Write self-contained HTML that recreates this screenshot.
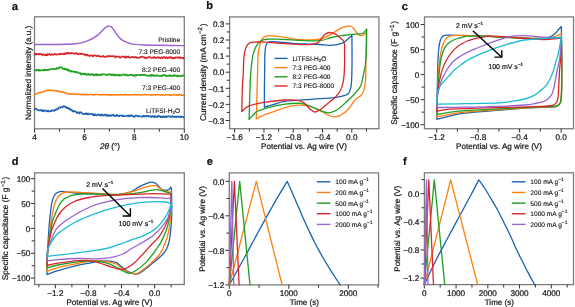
<!DOCTYPE html>
<html><head><meta charset="utf-8"><style>
html,body{margin:0;padding:0;background:#fff;}
svg{display:block;will-change:transform;}
text{font-family:"Liberation Sans", sans-serif;fill:#111;text-rendering:geometricPrecision;stroke:#111;stroke-width:0.2px;}
text.sm{stroke-width:0.12px;}
</style></head><body>
<svg width="575" height="307" viewBox="0 0 575 307">
<rect width="575" height="307" fill="#fff"/>
<text x="11.7" y="10" font-size="11.3" text-anchor="start" font-weight="bold" >a</text>
<rect x="34.5" y="16.8" width="149.8" height="112" fill="none" stroke="#7c7c7c" stroke-width="1.3"/>
<line x1="34.5" y1="128.8" x2="34.5" y2="132.7" stroke="#333" stroke-width="1.0"/>
<line x1="84.43" y1="128.8" x2="84.43" y2="132.7" stroke="#333" stroke-width="1.0"/>
<line x1="134.37" y1="128.8" x2="134.37" y2="132.7" stroke="#333" stroke-width="1.0"/>
<line x1="184.3" y1="128.8" x2="184.3" y2="132.7" stroke="#333" stroke-width="1.0"/>
<line x1="59.47" y1="128.8" x2="59.47" y2="131.7" stroke="#333" stroke-width="1.0"/>
<line x1="109.4" y1="128.8" x2="109.4" y2="131.7" stroke="#333" stroke-width="1.0"/>
<line x1="159.33" y1="128.8" x2="159.33" y2="131.7" stroke="#333" stroke-width="1.0"/>
<text x="34.5" y="139.6" font-size="8.2" text-anchor="middle" font-weight="normal" >4</text>
<text x="84.43" y="139.6" font-size="8.2" text-anchor="middle" font-weight="normal" >6</text>
<text x="134.37" y="139.6" font-size="8.2" text-anchor="middle" font-weight="normal" >8</text>
<text x="184.3" y="139.6" font-size="8.2" text-anchor="middle" font-weight="normal" >10</text>
<text x="109.9" y="149.0" font-size="8.2" text-anchor="middle"><tspan font-style="italic">2θ</tspan> (°)</text>
<text transform="translate(31.3,72.85) rotate(-90)" x="0" y="0" font-size="8.12" text-anchor="middle">Normalized intensity (a.u.)</text>
<path d="M34.5,44.4 C37.08,44.42 44.92,44.52 50,44.5 C55.08,44.48 60.83,44.42 65,44.3 C69.17,44.18 72.17,44.08 75,43.8 C77.83,43.52 79.72,43.17 82,42.6 C84.28,42.03 86.7,41.23 88.7,40.4 C90.7,39.57 92.37,38.6 94,37.6 C95.63,36.6 97.17,35.52 98.5,34.4 C99.83,33.28 101,31.9 102,30.9 C103,29.9 103.67,29.12 104.5,28.4 C105.33,27.68 106.25,26.98 107,26.6 C107.75,26.22 108.33,26.08 109,26.1 C109.67,26.12 110.33,26.23 111,26.7 C111.67,27.17 112.05,27.65 113,28.9 C113.95,30.15 115.53,32.62 116.7,34.2 C117.87,35.78 118.68,37.2 120,38.4 C121.32,39.6 122.93,40.55 124.6,41.4 C126.27,42.25 128.37,43 130,43.5 C131.63,44 131.9,44.15 134.4,44.4 C136.9,44.65 140.73,44.85 145,45 C149.27,45.15 153.45,45.2 160,45.3 C166.55,45.4 180.25,45.55 184.3,45.6" fill="none" stroke="#9a63cf" stroke-width="1.45" stroke-linejoin="round" stroke-linecap="round"/>
<path d="M34.5,54.04 L35.1,53.79 L35.7,54.56 L36.3,53.71 L36.9,54.42 L37.5,54.19 L38.1,53.76 L38.7,54.46 L39.3,53.78 L39.9,54.41 L40.5,53.89 L41.1,53.95 L41.7,54.48 L42.3,55.11 L42.9,54.08 L43.5,54.25 L44.1,54.87 L44.7,55.37 L45.3,54.81 L45.9,54.54 L46.5,55.4 L47.1,54 L47.7,55.22 L48.3,54.36 L48.9,54.13 L49.5,54.08 L50.1,54.36 L50.7,55.12 L51.3,54.15 L51.9,54.75 L52.5,54.83 L53.1,54.42 L53.7,54.68 L54.3,53.95 L54.9,53.94 L55.5,54.13 L56.1,54.8 L56.7,54.36 L57.3,54.13 L57.9,54.47 L58.5,54.19 L59.1,53.89 L59.7,54.55 L60.3,54.34 L60.9,53.59 L61.5,54.02 L62.1,53.9 L62.7,54.38 L63.3,54.13 L63.9,53.43 L64.5,54.42 L65.1,53.07 L65.7,53.46 L66.3,53.9 L66.9,52.92 L67.5,53.35 L68.1,52.61 L68.7,53.48 L69.3,53.56 L69.9,53.22 L70.5,53.62 L71.1,52.74 L71.7,53.3 L72.3,53.19 L72.9,53.22 L73.5,53.09 L74.1,53.73 L74.7,53.96 L75.3,53.33 L75.9,53.68 L76.5,52.83 L77.1,53.85 L77.7,53.81 L78.3,54.37 L78.9,54.18 L79.5,53.45 L80.1,53.7 L80.7,54.23 L81.3,53.37 L81.9,54.16 L82.5,53.84 L83.1,53.9 L83.7,53.94 L84.3,55.13 L84.9,54.29 L85.5,54.58 L86.1,54.9 L86.7,55.71 L87.3,54.6 L87.9,55.22 L88.5,55.4 L89.1,55.93 L89.7,55.87 L90.3,55.99 L90.9,55.16 L91.5,55.42 L92.1,55.39 L92.7,56.24 L93.3,56.41 L93.9,55.27 L94.5,55.37 L95.1,55.51 L95.7,55.58 L96.3,56.01 L96.9,56.23 L97.5,55.79 L98.1,55.45 L98.7,56.11 L99.3,56.07 L99.9,56.4 L100.5,56.99 L101.1,56.61 L101.7,56.36 L102.3,56.53 L102.9,56.63 L103.5,55.72 L104.1,57.01 L104.7,56.85 L105.3,57.01 L105.9,56.92 L106.5,56.34 L107.1,56.37 L107.7,55.95 L108.3,56.78 L108.9,55.94 L109.5,55.98 L110.1,56.22 L110.7,56.17 L111.3,56.47 L111.9,56.06 L112.5,56.01 L113.1,56.26 L113.7,56.21 L114.3,56.63 L114.9,56.15 L115.5,57.44 L116.1,57.07 L116.7,56.39 L117.3,56.57 L117.9,56.72 L118.5,56.77 L119.1,56.42 L119.7,57.52 L120.3,57.74 L120.9,56.96 L121.5,56.99 L122.1,56.4 L122.7,56.43 L123.3,56.79 L123.9,56.68 L124.5,57.53 L125.1,56.54 L125.7,56.34 L126.3,57.74 L126.9,57.11 L127.5,56.55 L128.1,57.15 L128.7,56.39 L129.3,57.15 L129.9,57.83 L130.5,57.67 L131.1,57.43 L131.7,56.79 L132.3,56.95 L132.9,56.66 L133.5,57.58 L134.1,57.23 L134.7,57.61 L135.3,56.95 L135.9,56.8 L136.5,57.69 L137.1,57.96 L137.7,57.77 L138.3,57.71 L138.9,57.74 L139.5,57.64 L140.1,56.88 L140.7,57.32 L141.3,57.09 L141.9,56.61 L142.5,56.61 L143.1,57 L143.7,56.98 L144.3,57.63 L144.9,58.04 L145.5,57.28 L146.1,58.02 L146.7,58.1 L147.3,58.06 L147.9,57.18 L148.5,56.97 L149.1,56.98 L149.7,56.94 L150.3,56.96 L150.9,57.59 L151.5,58.01 L152.1,57.92 L152.7,57.39 L153.3,57.65 L153.9,57.88 L154.5,56.81 L155.1,57.68 L155.7,58.06 L156.3,57.88 L156.9,57.83 L157.5,57.43 L158.1,56.99 L158.7,57.91 L159.3,57.24 L159.9,57.95 L160.5,58.21 L161.1,57.36 L161.7,57.37 L162.3,58.2 L162.9,57.87 L163.5,57.05 L164.1,57 L164.7,57.04 L165.3,58.18 L165.9,58.04 L166.5,57.06 L167.1,58.09 L167.7,58.33 L168.3,57.85 L168.9,57.4 L169.5,57.71 L170.1,57.09 L170.7,56.92 L171.3,58.37 L171.9,57.89 L172.5,57.72 L173.1,58.34 L173.7,57.6 L174.3,58.26 L174.9,58.2 L175.5,57.28 L176.1,57.35 L176.7,57.42 L177.3,57.35 L177.9,57.88 L178.5,57.39 L179.1,57.64 L179.7,57.21 L180.3,58.39 L180.9,57.56 L181.5,57.72 L182.1,57.91 L182.7,58.4 L183.3,57.67 L183.9,58.42" fill="none" stroke="#d8262b" stroke-width="1.6" stroke-linejoin="round" stroke-linecap="round"/>
<path d="M34.5,70.5 L35.1,70.53 L35.7,70.51 L36.3,69.73 L36.9,70.34 L37.5,69.93 L38.1,69.63 L38.7,70.8 L39.3,69.83 L39.9,70.25 L40.5,70.6 L41.1,70.32 L41.7,69.95 L42.3,70.21 L42.9,70.24 L43.5,70.56 L44.1,69.53 L44.7,70.2 L45.3,69.7 L45.9,69.67 L46.5,70.33 L47.1,69.84 L47.7,69.81 L48.3,69.99 L48.9,70.09 L49.5,69.26 L50.1,69.39 L50.7,69.12 L51.3,69.03 L51.9,69.21 L52.5,68.78 L53.1,68.84 L53.7,68.71 L54.3,69.34 L54.9,68.89 L55.5,69.06 L56.1,69.06 L56.7,67.93 L57.3,68.28 L57.9,68.75 L58.5,68.5 L59.1,67.37 L59.7,67.28 L60.3,67.71 L60.9,67.25 L61.5,67.63 L62.1,67.54 L62.7,68.61 L63.3,68.97 L63.9,69.33 L64.5,68.38 L65.1,69.37 L65.7,69.4 L66.3,68.73 L66.9,69.99 L67.5,70.32 L68.1,69.44 L68.7,70.8 L69.3,70.25 L69.9,70.67 L70.5,71.7 L71.1,71.72 L71.7,70.94 L72.3,71.54 L72.9,71.8 L73.5,71.62 L74.1,71.49 L74.7,71.78 L75.3,72.51 L75.9,71.59 L76.5,72.54 L77.1,72.52 L77.7,72.05 L78.3,72.69 L78.9,73.3 L79.5,73.3 L80.1,72.79 L80.7,74.32 L81.3,74.17 L81.9,74.57 L82.5,73.39 L83.1,73.73 L83.7,73.47 L84.3,74.63 L84.9,73.89 L85.5,73.7 L86.1,74.17 L86.7,74.93 L87.3,74.83 L87.9,74.03 L88.5,73.9 L89.1,75.1 L89.7,74.62 L90.3,74.86 L90.9,73.98 L91.5,73.97 L92.1,74.95 L92.7,74.59 L93.3,74.09 L93.9,75.42 L94.5,74.99 L95.1,75.25 L95.7,74.18 L96.3,75.34 L96.9,74.16 L97.5,75.36 L98.1,74.75 L98.7,74.58 L99.3,74.9 L99.9,75.47 L100.5,74.48 L101.1,74.28 L101.7,74.88 L102.3,74.46 L102.9,74.27 L103.5,74.35 L104.1,74.19 L104.7,74.42 L105.3,74.59 L105.9,74.59 L106.5,75.27 L107.1,74.57 L107.7,74.89 L108.3,74.41 L108.9,74.67 L109.5,74.18 L110.1,74.53 L110.7,74.18 L111.3,75.26 L111.9,74.99 L112.5,74.45 L113.1,74.89 L113.7,75.58 L114.3,74.35 L114.9,75.42 L115.5,74.85 L116.1,74.95 L116.7,75.47 L117.3,74.82 L117.9,75 L118.5,75.28 L119.1,75.73 L119.7,74.78 L120.3,75.52 L120.9,75.34 L121.5,75.24 L122.1,74.91 L122.7,74.83 L123.3,74.4 L123.9,74.53 L124.5,74.45 L125.1,75.46 L125.7,74.75 L126.3,74.62 L126.9,74.51 L127.5,75.65 L128.1,75.71 L128.7,75.42 L129.3,74.85 L129.9,74.8 L130.5,74.88 L131.1,75.14 L131.7,74.7 L132.3,75.14 L132.9,74.87 L133.5,75.93 L134.1,75.95 L134.7,75.32 L135.3,74.87 L135.9,75.96 L136.5,74.98 L137.1,75.06 L137.7,74.53 L138.3,75.11 L138.9,75.25 L139.5,75.3 L140.1,74.85 L140.7,75.31 L141.3,74.57 L141.9,74.96 L142.5,74.7 L143.1,75.17 L143.7,74.64 L144.3,74.62 L144.9,75.05 L145.5,74.95 L146.1,75.48 L146.7,75.41 L147.3,75.74 L147.9,75.61 L148.5,75.71 L149.1,75.96 L149.7,75.23 L150.3,75.15 L150.9,76.14 L151.5,74.9 L152.1,75.77 L152.7,75.66 L153.3,74.77 L153.9,75.96 L154.5,76.06 L155.1,75.67 L155.7,75.84 L156.3,75.97 L156.9,74.97 L157.5,75.56 L158.1,75.54 L158.7,76.04 L159.3,76.01 L159.9,76.05 L160.5,75.7 L161.1,76.17 L161.7,75.87 L162.3,75.89 L162.9,75.21 L163.5,74.92 L164.1,75.08 L164.7,75.44 L165.3,75.06 L165.9,76.17 L166.5,75.76 L167.1,75.88 L167.7,75.88 L168.3,75.98 L168.9,75.7 L169.5,74.98 L170.1,76.18 L170.7,76.12 L171.3,75.76 L171.9,75.81 L172.5,76.01 L173.1,75.13 L173.7,76.14 L174.3,75.42 L174.9,75.17 L175.5,75.46 L176.1,76.16 L176.7,75.39 L177.3,76.19 L177.9,76.56 L178.5,75.84 L179.1,75.68 L179.7,75.83 L180.3,76.14 L180.9,76.27 L181.5,76.05 L182.1,76.1 L182.7,75.25 L183.3,75.36 L183.9,75.53" fill="none" stroke="#1f9e22" stroke-width="1.6" stroke-linejoin="round" stroke-linecap="round"/>
<path d="M34.5,94.42 L35.5,94 L36.5,93.84 L37.5,93.2 L38.5,92.83 L39.5,92.56 L40.5,92.43 L41.5,92.19 L42.5,92.01 L43.5,91.59 L44.5,91.4 L45.5,91.03 L46.5,90.7 L47.5,90.24 L48.5,90.43 L49.5,90.08 L50.5,90.53 L51.5,90.59 L52.5,90.21 L53.5,90.51 L54.5,90.74 L55.5,90.89 L56.5,90.8 L57.5,90.93 L58.5,91.15 L59.5,91.77 L60.5,91.63 L61.5,91.98 L62.5,91.9 L63.5,92.31 L64.5,92.81 L65.5,92.73 L66.5,93.41 L67.5,93.56 L68.5,93.98 L69.5,94.01 L70.5,93.81 L71.5,94.2 L72.5,94.05 L73.5,93.88 L74.5,93.94 L75.5,94.26 L76.5,94.31 L77.5,94.29 L78.5,94.26 L79.5,94.41 L80.5,94.41 L81.5,94.68 L82.5,94.27 L83.5,94.65 L84.5,94.7 L85.5,94.36 L86.5,94.77 L87.5,94.67 L88.5,94.78 L89.5,94.49 L90.5,94.54 L91.5,94.57 L92.5,94.88 L93.5,94.69 L94.5,94.59 L95.5,94.63 L96.5,94.56 L97.5,94.46 L98.5,94.49 L99.5,94.86 L100.5,94.59 L101.5,94.92 L102.5,94.58 L103.5,94.59 L104.5,94.71 L105.5,94.55 L106.5,94.65 L107.5,94.94 L108.5,94.9 L109.5,94.87 L110.5,94.78 L111.5,94.92 L112.5,94.94 L113.5,94.75 L114.5,94.83 L115.5,94.5 L116.5,94.84 L117.5,94.71 L118.5,94.86 L119.5,94.81 L120.5,94.63 L121.5,94.52 L122.5,94.96 L123.5,94.56 L124.5,94.73 L125.5,94.67 L126.5,94.65 L127.5,94.88 L128.5,95 L129.5,94.64 L130.5,94.84 L131.5,94.67 L132.5,94.8 L133.5,94.72 L134.5,94.61 L135.5,94.61 L136.5,94.64 L137.5,94.99 L138.5,94.79 L139.5,94.65 L140.5,95 L141.5,95.05 L142.5,94.78 L143.5,94.62 L144.5,94.65 L145.5,94.61 L146.5,94.73 L147.5,94.61 L148.5,94.69 L149.5,94.7 L150.5,94.86 L151.5,95.02 L152.5,94.96 L153.5,94.79 L154.5,94.79 L155.5,94.85 L156.5,94.78 L157.5,94.76 L158.5,94.63 L159.5,94.74 L160.5,95.09 L161.5,94.67 L162.5,94.86 L163.5,94.93 L164.5,95.04 L165.5,94.72 L166.5,94.75 L167.5,94.74 L168.5,94.82 L169.5,94.85 L170.5,95.1 L171.5,95.05 L172.5,95.07 L173.5,94.64 L174.5,94.65 L175.5,94.99 L176.5,95.09 L177.5,94.88 L178.5,94.94 L179.5,94.64 L180.5,94.84 L181.5,95.11 L182.5,95.06 L183.5,95.08" fill="none" stroke="#ff7f0e" stroke-width="1.6" stroke-linejoin="round" stroke-linecap="round"/>
<path d="M34.5,109.71 L35.1,108.7 L35.7,108.59 L36.3,108.78 L36.9,109.48 L37.5,109.87 L38.1,110.42 L38.7,110.26 L39.3,110.3 L39.9,110.63 L40.5,110.3 L41.1,110.55 L41.7,109.87 L42.3,111.04 L42.9,110.26 L43.5,111.34 L44.1,110.99 L44.7,110.55 L45.3,110.36 L45.9,110.63 L46.5,111.28 L47.1,111.45 L47.7,110.64 L48.3,110.64 L48.9,111.38 L49.5,111.51 L50.1,111.18 L50.7,110.81 L51.3,111.21 L51.9,110.13 L52.5,110.35 L53.1,110.37 L53.7,110.89 L54.3,110.22 L54.9,110.4 L55.5,109.65 L56.1,109.18 L56.7,108.97 L57.3,109.73 L57.9,108.97 L58.5,107.99 L59.1,107.23 L59.7,107.69 L60.3,107.81 L60.9,107.3 L61.5,106.87 L62.1,107.28 L62.7,107.47 L63.3,106.25 L63.9,105.83 L64.5,106.35 L65.1,106.69 L65.7,107.35 L66.3,106.92 L66.9,108.1 L67.5,108.23 L68.1,108.04 L68.7,107.84 L69.3,109.33 L69.9,108.76 L70.5,109.98 L71.1,109.55 L71.7,109.96 L72.3,111.11 L72.9,110.66 L73.5,111.78 L74.1,111.27 L74.7,111.03 L75.3,111.33 L75.9,111.88 L76.5,112.51 L77.1,113.16 L77.7,112.14 L78.3,112.64 L78.9,112.41 L79.5,113.6 L80.1,112.4 L80.7,112.32 L81.3,112.4 L81.9,112.97 L82.5,113.8 L83.1,113.85 L83.7,113.71 L84.3,114.19 L84.9,114.18 L85.5,113.37 L86.1,113.24 L86.7,114.46 L87.3,114.27 L87.9,113.29 L88.5,114.33 L89.1,113.99 L89.7,114.06 L90.3,114.08 L90.9,113.92 L91.5,113.74 L92.1,114.22 L92.7,114.39 L93.3,115.36 L93.9,114.16 L94.5,115.46 L95.1,114.36 L95.7,114.6 L96.3,115.31 L96.9,115.33 L97.5,114.77 L98.1,114.22 L98.7,114.88 L99.3,114.75 L99.9,115.6 L100.5,114.54 L101.1,114.83 L101.7,115.65 L102.3,114.39 L102.9,114.99 L103.5,115.62 L104.1,115.58 L104.7,114.52 L105.3,114.54 L105.9,114.61 L106.5,115.92 L107.1,114.95 L107.7,115.71 L108.3,115.95 L108.9,115.13 L109.5,115.05 L110.1,116.09 L110.7,115.59 L111.3,115.06 L111.9,115.75 L112.5,115.16 L113.1,115.12 L113.7,114.72 L114.3,115.86 L114.9,116.12 L115.5,115.71 L116.1,116.19 L116.7,114.82 L117.3,115.15 L117.9,115.53 L118.5,116.27 L119.1,116.29 L119.7,115.45 L120.3,115.27 L120.9,115.56 L121.5,115.67 L122.1,116.34 L122.7,115.25 L123.3,116.2 L123.9,116.12 L124.5,116.27 L125.1,116.21 L125.7,115.98 L126.3,115.59 L126.9,115.59 L127.5,115.68 L128.1,116.33 L128.7,115.29 L129.3,115.49 L129.9,116.34 L130.5,115.6 L131.1,115.35 L131.7,115.32 L132.3,116.11 L132.9,115.79 L133.5,116.79 L134.1,116.66 L134.7,116.83 L135.3,115.76 L135.9,115.5 L136.5,115.53 L137.1,116.15 L137.7,116.48 L138.3,116.09 L138.9,115.79 L139.5,116.07 L140.1,116.38 L140.7,116.47 L141.3,116.58 L141.9,116.74 L142.5,116.47 L143.1,115.66 L143.7,116.75 L144.3,115.94 L144.9,116.36 L145.5,116.07 L146.1,116.63 L146.7,115.83 L147.3,115.91 L147.9,115.92 L148.5,115.79 L149.1,116.9 L149.7,116.45 L150.3,116.08 L150.9,116.2 L151.5,117.11 L152.1,116.39 L152.7,115.99 L153.3,116.87 L153.9,116.65 L154.5,117.16 L155.1,115.84 L155.7,116.42 L156.3,116.95 L156.9,116.99 L157.5,117.11 L158.1,115.82 L158.7,116.21 L159.3,115.96 L159.9,116.08 L160.5,117.27 L161.1,116.7 L161.7,117.23 L162.3,116.41 L162.9,117.17 L163.5,116.55 L164.1,116.29 L164.7,117.08 L165.3,117.34 L165.9,116.1 L166.5,116.84 L167.1,116.89 L167.7,116.3 L168.3,116.54 L168.9,116.22 L169.5,116.32 L170.1,116.41 L170.7,116.94 L171.3,117.03 L171.9,116.37 L172.5,116.09 L173.1,116.58 L173.7,117.12 L174.3,116.39 L174.9,116.59 L175.5,116.44 L176.1,117.34 L176.7,116.98 L177.3,116.26 L177.9,116.32 L178.5,116.77 L179.1,117.01 L179.7,117.16 L180.3,116.34 L180.9,116.46 L181.5,117.26 L182.1,116.84 L182.7,116.66 L183.3,116.7 L183.9,117.68" fill="none" stroke="#1b62b0" stroke-width="1.6" stroke-linejoin="round" stroke-linecap="round"/>
<text class="sm" x="180.2" y="42.4" font-size="6.6" text-anchor="end" font-weight="normal" >Pristine</text>
<text class="sm" x="180.2" y="54" font-size="6.6" text-anchor="end" font-weight="normal" >7:3 PEG-8000</text>
<text class="sm" x="180.2" y="71.6" font-size="6.6" text-anchor="end" font-weight="normal" >8:2 PEG-400</text>
<text class="sm" x="180.2" y="89.6" font-size="6.6" text-anchor="end" font-weight="normal" >7:3 PEG-400</text>
<text class="sm" x="180.2" y="112.5" font-size="6.6" text-anchor="end" font-weight="normal" >LiTFSI-H<tspan font-size="4.6" dy="1.5">2</tspan><tspan dy="-1.5">O</tspan></text>
<text x="206.3" y="9.3" font-size="11" text-anchor="start" font-weight="bold" >b</text>
<rect x="229.6" y="16.9" width="149.3" height="111.8" fill="none" stroke="#7c7c7c" stroke-width="1.3"/>
<line x1="234.68" y1="128.7" x2="234.68" y2="132.6" stroke="#333" stroke-width="1.0"/>
<line x1="263.96" y1="128.7" x2="263.96" y2="132.6" stroke="#333" stroke-width="1.0"/>
<line x1="293.24" y1="128.7" x2="293.24" y2="132.6" stroke="#333" stroke-width="1.0"/>
<line x1="322.52" y1="128.7" x2="322.52" y2="132.6" stroke="#333" stroke-width="1.0"/>
<line x1="351.8" y1="128.7" x2="351.8" y2="132.6" stroke="#333" stroke-width="1.0"/>
<line x1="249.32" y1="128.7" x2="249.32" y2="131.6" stroke="#333" stroke-width="1.0"/>
<line x1="278.6" y1="128.7" x2="278.6" y2="131.6" stroke="#333" stroke-width="1.0"/>
<line x1="307.88" y1="128.7" x2="307.88" y2="131.6" stroke="#333" stroke-width="1.0"/>
<line x1="337.16" y1="128.7" x2="337.16" y2="131.6" stroke="#333" stroke-width="1.0"/>
<line x1="366.44" y1="128.7" x2="366.44" y2="131.6" stroke="#333" stroke-width="1.0"/>
<text x="234.68" y="139.6" font-size="8.2" text-anchor="middle" font-weight="normal" >&#8722;1.6</text>
<text x="263.96" y="139.6" font-size="8.2" text-anchor="middle" font-weight="normal" >&#8722;1.2</text>
<text x="293.24" y="139.6" font-size="8.2" text-anchor="middle" font-weight="normal" >&#8722;0.8</text>
<text x="322.52" y="139.6" font-size="8.2" text-anchor="middle" font-weight="normal" >&#8722;0.4</text>
<text x="351.8" y="139.6" font-size="8.2" text-anchor="middle" font-weight="normal" >0.0</text>
<line x1="225.7" y1="120.5" x2="229.6" y2="120.5" stroke="#333" stroke-width="1.0"/>
<line x1="225.7" y1="104.4" x2="229.6" y2="104.4" stroke="#333" stroke-width="1.0"/>
<line x1="225.7" y1="88.3" x2="229.6" y2="88.3" stroke="#333" stroke-width="1.0"/>
<line x1="225.7" y1="72.2" x2="229.6" y2="72.2" stroke="#333" stroke-width="1.0"/>
<line x1="225.7" y1="56.1" x2="229.6" y2="56.1" stroke="#333" stroke-width="1.0"/>
<line x1="225.7" y1="40" x2="229.6" y2="40" stroke="#333" stroke-width="1.0"/>
<line x1="225.7" y1="23.9" x2="229.6" y2="23.9" stroke="#333" stroke-width="1.0"/>
<line x1="226.7" y1="112.45" x2="229.6" y2="112.45" stroke="#333" stroke-width="1.0"/>
<line x1="226.7" y1="96.35" x2="229.6" y2="96.35" stroke="#333" stroke-width="1.0"/>
<line x1="226.7" y1="80.25" x2="229.6" y2="80.25" stroke="#333" stroke-width="1.0"/>
<line x1="226.7" y1="64.15" x2="229.6" y2="64.15" stroke="#333" stroke-width="1.0"/>
<line x1="226.7" y1="48.05" x2="229.6" y2="48.05" stroke="#333" stroke-width="1.0"/>
<line x1="226.7" y1="31.95" x2="229.6" y2="31.95" stroke="#333" stroke-width="1.0"/>
<text x="224.3" y="123.7" font-size="8.2" text-anchor="end" font-weight="normal" >&#8722;0.3</text>
<text x="224.3" y="107.6" font-size="8.2" text-anchor="end" font-weight="normal" >&#8722;0.2</text>
<text x="224.3" y="91.5" font-size="8.2" text-anchor="end" font-weight="normal" >&#8722;0.1</text>
<text x="224.3" y="75.4" font-size="8.2" text-anchor="end" font-weight="normal" >0.0</text>
<text x="224.3" y="59.3" font-size="8.2" text-anchor="end" font-weight="normal" >0.1</text>
<text x="224.3" y="43.2" font-size="8.2" text-anchor="end" font-weight="normal" >0.2</text>
<text x="224.3" y="27.1" font-size="8.2" text-anchor="end" font-weight="normal" >0.3</text>
<text x="304" y="149.2" font-size="8.1" text-anchor="middle" font-weight="normal" >Potential vs. Ag wire (V)</text>
<text transform="translate(205.5,72.3) rotate(-90)" x="0" y="0" font-size="8.3" text-anchor="middle">Current density (mA cm<tspan font-size="6" dx="0.4" dy="-3.4">&#8722;2</tspan><tspan dx="0.9" dy="3.4">)</tspan></text>
<path d="M264.4,107.2 C264.4,104.33 264.37,95.37 264.4,90 C264.43,84.63 264.52,80.92 264.6,75 C264.68,69.08 264.72,59.22 264.9,54.5 C265.08,49.78 265.3,48.65 265.7,46.7 C266.1,44.75 266.6,43.65 267.3,42.8 C268,41.95 268.27,41.75 269.9,41.6 C271.53,41.45 273.28,41.6 277.1,41.9 C280.92,42.2 287.58,43.03 292.8,43.4 C298.02,43.77 303.87,43.92 308.4,44.1 C312.93,44.28 316.55,44.3 320,44.5 C323.45,44.7 326.25,45.28 329.1,45.3 C331.95,45.32 334.92,44.95 337.1,44.6 C339.28,44.25 340.77,43.8 342.2,43.2 C343.63,42.6 344.47,41.95 345.7,41 C346.93,40.05 348.57,38.5 349.6,37.5 C350.63,36.5 351.52,35.42 351.9,35 C351.92,36.67 351.98,40 352,45 C352.02,50 352.07,59.17 352,65 C351.93,70.83 351.8,76.23 351.6,80 C351.4,83.77 351.25,85.47 350.8,87.6 C350.35,89.73 349.87,91.5 348.9,92.8 C347.93,94.1 347.4,94.6 345,95.4 C342.6,96.2 340.17,96.95 334.5,97.6 C328.83,98.25 319.25,98.68 311,99.3 C302.75,99.92 291.18,100.45 285,101.3 C278.82,102.15 276.73,103.58 273.9,104.4 C271.07,105.22 269.58,105.73 268,106.2 C266.42,106.67 265,107.03 264.4,107.2" fill="none" stroke="#1b62b0" stroke-width="1.3" stroke-linejoin="round" stroke-linecap="round"/>
<path d="M256.3,118.9 C256.38,115.75 256.65,105.65 256.8,100 C256.95,94.35 257.08,89.17 257.2,85 C257.32,80.83 257.35,80.08 257.5,75 C257.65,69.92 257.77,59.22 258.1,54.5 C258.43,49.78 259.02,48.87 259.5,46.7 C259.98,44.53 260.35,43.02 261,41.5 C261.65,39.98 262.35,38.52 263.4,37.6 C264.45,36.68 265.8,36.3 267.3,36 C268.8,35.7 269.72,35.6 272.4,35.8 C275.08,36 280,36.7 283.4,37.2 C286.8,37.7 289.15,38.35 292.8,38.8 C296.45,39.25 301.4,39.77 305.3,39.9 C309.2,40.03 313.25,39.88 316.2,39.6 C319.15,39.32 320.47,39.12 323,38.2 C325.53,37.28 328.48,35.73 331.4,34.1 C334.32,32.47 337.55,29.77 340.5,28.4 C343.45,27.03 347,26 349.1,25.9 C351.2,25.8 351.87,26.72 353.1,27.8 C354.33,28.88 355.47,31.17 356.5,32.4 C357.53,33.63 358.45,34.67 359.3,35.2 C360.15,35.73 360.73,35.78 361.6,35.6 C362.47,35.42 363.73,34.63 364.5,34.1 C365.27,33.57 365.92,32.68 366.2,32.4 C366.2,34.5 366.27,40.4 366.2,45 C366.13,49.6 365.9,54.2 365.8,60 C365.7,65.8 366.13,74.22 365.6,79.8 C365.07,85.38 364.37,90.13 362.6,93.5 C360.83,96.87 357.28,97.5 355,100 C352.72,102.5 351.22,106 348.9,108.5 C346.58,111 343.5,113.6 341.1,115 C338.7,116.4 336.68,116.9 334.5,116.9 C332.32,116.9 330.6,116.18 328,115 C325.4,113.82 322.15,111.32 318.9,109.8 C315.65,108.28 311.98,106.67 308.5,105.9 C305.02,105.13 301.92,104.92 298,105.2 C294.08,105.48 288.83,106.6 285,107.6 C281.17,108.6 278.5,109.97 275,111.2 C271.5,112.43 266.5,114.07 264,115 C261.5,115.93 261.28,116.15 260,116.8 C258.72,117.45 256.92,118.55 256.3,118.9" fill="none" stroke="#ff7f0e" stroke-width="1.3" stroke-linejoin="round" stroke-linecap="round"/>
<path d="M249.1,119.5 C249.17,117.08 249.35,109.92 249.5,105 C249.65,100.08 249.82,95 250,90 C250.18,85 250.22,80.25 250.6,75 C250.98,69.75 251.7,62.57 252.3,58.5 C252.9,54.43 253.45,52.78 254.2,50.6 C254.95,48.42 255.82,46.92 256.8,45.4 C257.78,43.88 258.9,42.47 260.1,41.5 C261.3,40.53 262.58,39.98 264,39.6 C265.42,39.22 266.42,39.28 268.6,39.2 C270.78,39.12 271.77,38.9 277.1,39.1 C282.43,39.3 293.45,40.15 300.6,40.4 C307.75,40.65 314.87,41.08 320,40.6 C325.13,40.12 327.6,38.35 331.4,37.5 C335.2,36.65 339.38,36.03 342.8,35.5 C346.22,34.97 349.05,34.57 351.9,34.3 C354.75,34.03 358,34.12 359.9,33.9 C361.8,33.68 362.17,33.82 363.3,33 C364.43,32.18 366.13,29.67 366.7,29 C366.68,30.83 366.68,35.67 366.6,40 C366.52,44.33 366.4,50.83 366.2,55 C366,59.17 365.83,61.85 365.4,65 C364.97,68.15 364.38,70.45 363.6,73.9 C362.82,77.35 362.13,82.43 360.7,85.7 C359.27,88.97 357.4,90.78 355,93.5 C352.6,96.22 349.27,99.28 346.3,102 C343.33,104.72 340.03,108 337.2,109.8 C334.37,111.6 331.92,112.58 329.3,112.8 C326.68,113.02 324.55,112.15 321.5,111.1 C318.45,110.05 314.48,107.78 311,106.5 C307.52,105.22 304.93,103.78 300.6,103.4 C296.27,103.02 290.1,103.57 285,104.2 C279.9,104.83 273.83,106.3 270,107.2 C266.17,108.1 264.28,108.78 262,109.6 C259.72,110.42 258.45,110.45 256.3,112.1 C254.15,113.75 250.3,118.27 249.1,119.5" fill="none" stroke="#1f9e22" stroke-width="1.3" stroke-linejoin="round" stroke-linecap="round"/>
<path d="M241.8,111.5 C241.83,109.58 241.88,104.42 242,100 C242.12,95.58 242.28,89.67 242.5,85 C242.72,80.33 243.08,76.42 243.3,72 C243.52,67.58 243.5,62.07 243.8,58.5 C244.1,54.93 244.55,52.78 245.1,50.6 C245.65,48.42 246.23,46.73 247.1,45.4 C247.97,44.07 248.9,43.15 250.3,42.6 C251.7,42.05 253.63,42.22 255.5,42.1 C257.37,41.98 257.9,41.75 261.5,41.9 C265.1,42.05 271.88,42.63 277.1,43 C282.32,43.37 287.58,43.83 292.8,44.1 C298.02,44.37 304.73,44.65 308.4,44.6 C312.07,44.55 313.2,44.13 314.8,43.8 C316.4,43.47 317.05,43.23 318,42.6 C318.95,41.97 319.55,41.17 320.5,40 C321.45,38.83 322.62,36.75 323.7,35.6 C324.78,34.45 326.05,33.62 327,33.1 C327.95,32.58 328.45,32.5 329.4,32.5 C330.35,32.5 331.48,32.72 332.7,33.1 C333.92,33.48 335.35,33.92 336.7,34.8 C338.05,35.68 339.67,37.37 340.8,38.4 C341.93,39.43 342.87,39.9 343.5,41 C344.13,42.1 344.42,44.33 344.6,45 C344.6,46.67 344.6,51.67 344.6,55 C344.6,58.33 344.73,61.17 344.6,65 C344.47,68.83 344.17,74.67 343.8,78 C343.43,81.33 343.07,82.75 342.4,85 C341.73,87.25 341.12,89.33 339.8,91.5 C338.48,93.67 336.47,96.03 334.5,98 C332.53,99.97 330.38,101.33 328,103.3 C325.62,105.27 322.37,108.35 320.2,109.8 C318.03,111.25 316.73,112.12 315,112 C313.27,111.88 311.53,110.55 309.8,109.1 C308.07,107.65 306.57,104.75 304.6,103.3 C302.63,101.85 301.27,100.95 298,100.4 C294.73,99.85 290.67,99.68 285,100 C279.33,100.32 270.08,101.27 264,102.3 C257.92,103.33 252.2,104.67 248.5,106.2 C244.8,107.73 242.92,110.62 241.8,111.5" fill="none" stroke="#d8262b" stroke-width="1.3" stroke-linejoin="round" stroke-linecap="round"/>
<line x1="274.5" y1="58.4" x2="287.6" y2="58.4" stroke="#1b62b0" stroke-width="1.4"/>
<text class="sm" x="292.4" y="60.8" font-size="6.6" text-anchor="start" font-weight="normal" >LiTFSI-H<tspan font-size="4.6" dy="1.5">2</tspan><tspan dy="-1.5">O</tspan></text>
<line x1="274.5" y1="67.6" x2="287.6" y2="67.6" stroke="#ff7f0e" stroke-width="1.4"/>
<text class="sm" x="292.4" y="70" font-size="6.6" text-anchor="start" font-weight="normal" >7:3 PEG-400</text>
<line x1="274.5" y1="76.8" x2="287.6" y2="76.8" stroke="#1f9e22" stroke-width="1.4"/>
<text class="sm" x="292.4" y="79.2" font-size="6.6" text-anchor="start" font-weight="normal" >8:2 PEG-400</text>
<line x1="274.5" y1="86" x2="287.6" y2="86" stroke="#d8262b" stroke-width="1.4"/>
<text class="sm" x="292.4" y="88.4" font-size="6.6" text-anchor="start" font-weight="normal" >7:3 PEG-8000</text>
<text x="401.8" y="9.8" font-size="11.3" text-anchor="start" font-weight="bold" >c</text>
<rect x="424.5" y="16.9" width="149" height="111.8" fill="none" stroke="#7c7c7c" stroke-width="1.3"/>
<line x1="436.66" y1="128.7" x2="436.66" y2="132.6" stroke="#333" stroke-width="1.0"/>
<line x1="478.14" y1="128.7" x2="478.14" y2="132.6" stroke="#333" stroke-width="1.0"/>
<line x1="519.62" y1="128.7" x2="519.62" y2="132.6" stroke="#333" stroke-width="1.0"/>
<line x1="561.1" y1="128.7" x2="561.1" y2="132.6" stroke="#333" stroke-width="1.0"/>
<line x1="457.4" y1="128.7" x2="457.4" y2="131.6" stroke="#333" stroke-width="1.0"/>
<line x1="498.88" y1="128.7" x2="498.88" y2="131.6" stroke="#333" stroke-width="1.0"/>
<line x1="540.36" y1="128.7" x2="540.36" y2="131.6" stroke="#333" stroke-width="1.0"/>
<text x="436.66" y="139.6" font-size="8.2" text-anchor="middle" font-weight="normal" >&#8722;1.2</text>
<text x="478.14" y="139.6" font-size="8.2" text-anchor="middle" font-weight="normal" >&#8722;0.8</text>
<text x="519.62" y="139.6" font-size="8.2" text-anchor="middle" font-weight="normal" >&#8722;0.4</text>
<text x="561.1" y="139.6" font-size="8.2" text-anchor="middle" font-weight="normal" >0.0</text>
<line x1="420.6" y1="124.7" x2="424.5" y2="124.7" stroke="#333" stroke-width="1.0"/>
<line x1="420.6" y1="99.65" x2="424.5" y2="99.65" stroke="#333" stroke-width="1.0"/>
<line x1="420.6" y1="74.6" x2="424.5" y2="74.6" stroke="#333" stroke-width="1.0"/>
<line x1="420.6" y1="49.55" x2="424.5" y2="49.55" stroke="#333" stroke-width="1.0"/>
<line x1="420.6" y1="24.5" x2="424.5" y2="24.5" stroke="#333" stroke-width="1.0"/>
<line x1="421.6" y1="112.17" x2="424.5" y2="112.17" stroke="#333" stroke-width="1.0"/>
<line x1="421.6" y1="87.12" x2="424.5" y2="87.12" stroke="#333" stroke-width="1.0"/>
<line x1="421.6" y1="62.07" x2="424.5" y2="62.07" stroke="#333" stroke-width="1.0"/>
<line x1="421.6" y1="37.02" x2="424.5" y2="37.02" stroke="#333" stroke-width="1.0"/>
<text x="419.4" y="127.9" font-size="8.2" text-anchor="end" font-weight="normal" >&#8722;100</text>
<text x="419.4" y="102.85" font-size="8.2" text-anchor="end" font-weight="normal" >&#8722;50</text>
<text x="419.4" y="77.8" font-size="8.2" text-anchor="end" font-weight="normal" >0</text>
<text x="419.4" y="52.75" font-size="8.2" text-anchor="end" font-weight="normal" >50</text>
<text x="419.4" y="27.7" font-size="8.2" text-anchor="end" font-weight="normal" >100</text>
<text x="499" y="149.2" font-size="8.1" text-anchor="middle" font-weight="normal" >Potential vs. Ag wire (V)</text>
<text transform="translate(397.3,72.9) rotate(-90)" x="0" y="0" font-size="8.3" text-anchor="middle">Specific capacitance (F g<tspan font-size="6" dx="0.4" dy="-3.4">&#8722;1</tspan><tspan dx="0.9" dy="3.4">)</tspan></text>
<path d="M436.9,119.4 C436.92,117 436.93,109.9 437,105 C437.07,100.1 437.2,95 437.3,90 C437.4,85 437.5,79.67 437.6,75 C437.7,70.33 437.78,65.5 437.9,62 C438.02,58.5 438.12,56.5 438.3,54 C438.48,51.5 438.72,49.08 439,47 C439.28,44.92 439.6,43 440,41.5 C440.4,40 440.85,38.93 441.4,38 C441.95,37.07 442.47,36.37 443.3,35.9 C444.13,35.43 444.45,35.3 446.4,35.2 C448.35,35.1 449.4,35.18 455,35.3 C460.6,35.42 472.5,35.65 480,35.9 C487.5,36.15 493.33,36.48 500,36.8 C506.67,37.12 513.33,37.55 520,37.8 C526.67,38.05 535.33,38.35 540,38.3 C544.67,38.25 546,37.88 548,37.5 C550,37.12 550.67,36.83 552,36 C553.33,35.17 554.83,33.67 556,32.5 C557.17,31.33 558.12,30.02 559,29 C559.88,27.98 560.92,26.83 561.3,26.4 C561.35,28.67 561.52,32.73 561.6,40 C561.68,47.27 561.8,61.33 561.8,70 C561.8,78.67 561.77,86.75 561.6,92 C561.43,97.25 561.32,99.3 560.8,101.5 C560.28,103.7 559.47,104.32 558.5,105.2 C557.53,106.08 556.75,106.45 555,106.8 C553.25,107.15 552.17,107.12 548,107.3 C543.83,107.48 538.07,107.42 530,107.9 C521.93,108.38 510.47,109.32 499.6,110.2 C488.73,111.08 473.5,112.13 464.8,113.2 C456.1,114.27 452.05,115.57 447.4,116.6 C442.75,117.63 438.65,118.93 436.9,119.4" fill="none" stroke="#1b62b0" stroke-width="1.3" stroke-linejoin="round" stroke-linecap="round"/>
<path d="M436.9,116.9 C436.93,114.92 437,109.15 437.1,105 C437.2,100.85 437.35,96.17 437.5,92 C437.65,87.83 437.78,83.83 438,80 C438.22,76.17 438.5,72.42 438.8,69 C439.1,65.58 439.47,62.17 439.8,59.5 C440.13,56.83 440.45,54.95 440.8,53 C441.15,51.05 441.5,49.33 441.9,47.8 C442.3,46.27 442.72,45.02 443.2,43.8 C443.68,42.58 444.08,41.57 444.8,40.5 C445.52,39.43 446.35,38.22 447.5,37.4 C448.65,36.58 449.62,35.93 451.7,35.6 C453.78,35.27 455.28,35.35 460,35.4 C464.72,35.45 473.33,35.63 480,35.9 C486.67,36.17 493.33,36.65 500,37 C506.67,37.35 513.33,37.75 520,38 C526.67,38.25 535,38.53 540,38.5 C545,38.47 547.33,38.22 550,37.8 C552.67,37.38 554.12,36.7 556,36 C557.88,35.3 560.42,34 561.3,33.6 C561.35,35.5 561.52,38.93 561.6,45 C561.68,51.07 561.8,62.17 561.8,70 C561.8,77.83 561.77,86.75 561.6,92 C561.43,97.25 561.32,99.33 560.8,101.5 C560.28,103.67 559.47,104.18 558.5,105 C557.53,105.82 556.75,106.07 555,106.4 C553.25,106.73 552.17,106.82 548,107 C543.83,107.18 538.07,107.07 530,107.5 C521.93,107.93 510.47,108.83 499.6,109.6 C488.73,110.37 473.5,111.23 464.8,112.1 C456.1,112.97 452.05,114 447.4,114.8 C442.75,115.6 438.65,116.55 436.9,116.9" fill="none" stroke="#ff7f0e" stroke-width="1.3" stroke-linejoin="round" stroke-linecap="round"/>
<path d="M436.9,114.6 C436.93,112.33 436.98,105.1 437.1,101 C437.22,96.9 437.37,93.42 437.6,90 C437.83,86.58 438.18,83.83 438.5,80.5 C438.82,77.17 439.15,73.25 439.5,70 C439.85,66.75 440.17,63.58 440.6,61 C441.03,58.42 441.57,56.37 442.1,54.5 C442.63,52.63 443.22,51.15 443.8,49.8 C444.38,48.45 444.95,47.37 445.6,46.4 C446.25,45.43 446.7,44.9 447.7,44 C448.7,43.1 450.22,41.83 451.6,41 C452.98,40.17 454.27,39.6 456,39 C457.73,38.4 460.12,37.87 462,37.4 C463.88,36.93 464.3,36.4 467.3,36.2 C470.3,36 474.55,36.07 480,36.2 C485.45,36.33 493.33,36.67 500,37 C506.67,37.33 513.33,37.9 520,38.2 C526.67,38.5 534.17,38.83 540,38.8 C545.83,38.77 551.45,38.27 555,38 C558.55,37.73 560.25,37.33 561.3,37.2 C561.35,39.33 561.52,44.53 561.6,50 C561.68,55.47 561.82,63.33 561.8,70 C561.78,76.67 561.67,84.83 561.5,90 C561.33,95.17 561.22,98.58 560.8,101 C560.38,103.42 559.88,103.63 559,104.5 C558.12,105.37 557.33,105.82 555.5,106.2 C553.67,106.58 552.25,106.63 548,106.8 C543.75,106.97 538.07,106.87 530,107.2 C521.93,107.53 510.47,108.22 499.6,108.8 C488.73,109.38 473.5,110.07 464.8,110.7 C456.1,111.33 452.05,111.95 447.4,112.6 C442.75,113.25 438.65,114.27 436.9,114.6" fill="none" stroke="#1f9e22" stroke-width="1.3" stroke-linejoin="round" stroke-linecap="round"/>
<path d="M436.9,111.3 C436.93,109.58 436.97,104.22 437.1,101 C437.23,97.78 437.42,94.75 437.7,92 C437.98,89.25 438.38,86.9 438.8,84.5 C439.22,82.1 439.68,79.85 440.2,77.6 C440.72,75.35 441.3,73 441.9,71 C442.5,69 442.83,67.77 443.8,65.6 C444.77,63.43 446.07,60.57 447.7,58 C449.33,55.43 451.97,52.1 453.6,50.2 C455.23,48.3 456.2,47.63 457.5,46.6 C458.8,45.57 459.77,44.93 461.4,44 C463.03,43.07 465.03,41.9 467.3,41 C469.57,40.1 472.55,39.22 475,38.6 C477.45,37.98 479.8,37.7 482,37.3 C484.2,36.9 485.2,36.35 488.2,36.2 C491.2,36.05 495.53,36.17 500,36.4 C504.47,36.63 510,37.2 515,37.6 C520,38 525,38.48 530,38.8 C535,39.12 540.83,39.5 545,39.5 C549.17,39.5 552.28,39.08 555,38.8 C557.72,38.52 560.25,37.97 561.3,37.8 C561.3,39 561.43,41.3 561.3,45 C561.17,48.7 560.78,55.83 560.5,60 C560.22,64.17 559.88,65.83 559.6,70 C559.32,74.17 559.07,80.33 558.8,85 C558.53,89.67 558.38,95.08 558,98 C557.62,100.92 557.25,101.33 556.5,102.5 C555.75,103.67 554.92,104.42 553.5,105 C552.08,105.58 551.92,105.7 548,106 C544.08,106.3 538.07,106.55 530,106.8 C521.93,107.05 510.47,107.2 499.6,107.5 C488.73,107.8 473.5,108.3 464.8,108.6 C456.1,108.9 452.05,108.85 447.4,109.3 C442.75,109.75 438.65,110.97 436.9,111.3" fill="none" stroke="#d8262b" stroke-width="1.3" stroke-linejoin="round" stroke-linecap="round"/>
<path d="M436.9,107.5 C436.93,106.42 436.97,103.08 437.1,101 C437.23,98.92 437.38,97.08 437.7,95 C438.02,92.92 438.52,90.5 439,88.5 C439.48,86.5 440.05,84.65 440.6,83 C441.15,81.35 441.63,80.1 442.3,78.6 C442.97,77.1 443.7,75.67 444.6,74 C445.5,72.33 446.57,70.35 447.7,68.6 C448.83,66.85 450.1,65 451.4,63.5 C452.7,62 454.07,60.78 455.5,59.6 C456.93,58.42 458.37,57.45 460,56.4 C461.63,55.35 462.78,54.55 465.3,53.3 C467.82,52.05 471.83,50.28 475.1,48.9 C478.37,47.52 481.65,46.25 484.9,45 C488.15,43.75 491.25,42.6 494.6,41.4 C497.95,40.2 501.6,38.72 505,37.8 C508.4,36.88 511.83,36.27 515,35.9 C518.17,35.53 520.67,35.53 524,35.6 C527.33,35.67 530.67,35.98 535,36.3 C539.33,36.62 545.62,37.25 550,37.5 C554.38,37.75 559.42,37.75 561.3,37.8 C561.25,39 561.3,41.3 561,45 C560.7,48.7 560.13,55.83 559.5,60 C558.87,64.17 558.03,65.83 557.2,70 C556.37,74.17 555.37,81 554.5,85 C553.63,89 553.08,91.67 552,94 C550.92,96.33 549.35,97.78 548,99 C546.65,100.22 546.07,100.55 543.9,101.3 C541.73,102.05 538.25,102.88 535,103.5 C531.75,104.12 530.3,104.53 524.4,105 C518.5,105.47 509.53,105.93 499.6,106.3 C489.67,106.67 475.25,107 464.8,107.2 C454.35,107.4 441.55,107.45 436.9,107.5" fill="none" stroke="#9a63cf" stroke-width="1.3" stroke-linejoin="round" stroke-linecap="round"/>
<path d="M436.9,104.1 C436.9,103.25 436.82,100.68 436.9,99 C436.98,97.32 437.12,95.58 437.4,94 C437.68,92.42 438.03,91 438.6,89.5 C439.17,88 439.98,86.28 440.8,85 C441.62,83.72 442.55,82.87 443.5,81.8 C444.45,80.73 445.33,79.87 446.5,78.6 C447.67,77.33 449,75.8 450.5,74.2 C452,72.6 453.92,70.45 455.5,69 C457.08,67.55 458.37,66.73 460,65.5 C461.63,64.27 463.63,62.7 465.3,61.6 C466.97,60.5 468.37,59.77 470,58.9 C471.63,58.03 472.62,57.52 475.1,56.4 C477.58,55.28 481.42,53.62 484.9,52.2 C488.38,50.78 492.65,49.1 496,47.9 C499.35,46.7 502.33,45.82 505,45 C507.67,44.18 508.77,43.83 512,43 C515.23,42.17 519.73,40.7 524.4,40 C529.07,39.3 534.9,39.17 540,38.8 C545.1,38.43 551.45,38.07 555,37.8 C558.55,37.53 560.25,37.3 561.3,37.2 C561.08,38.5 560.55,42.03 560,45 C559.45,47.97 558.75,52 558,55 C557.25,58 556.22,60.5 555.5,63 C554.78,65.5 554.62,67.33 553.7,70 C552.78,72.67 551.3,76.38 550,79 C548.7,81.62 547.57,83.7 545.9,85.7 C544.23,87.7 541.97,89.38 540,91 C538.03,92.62 536.6,94.07 534.1,95.4 C531.6,96.73 528.25,98.08 525,99 C521.75,99.92 518.83,100.27 514.6,100.9 C510.37,101.53 507.9,102.33 499.6,102.8 C491.3,103.27 475.25,103.48 464.8,103.7 C454.35,103.92 441.55,104.03 436.9,104.1" fill="none" stroke="#19bcd0" stroke-width="1.3" stroke-linejoin="round" stroke-linecap="round"/>
<line x1="472.8" y1="30.7" x2="501.5" y2="57" stroke="#000" stroke-width="1.4"/>
<path d="M494.5,57.1 L501.8,57.1 L501.8,50.2" fill="none" stroke="#000" stroke-width="1.4"/>
<text x="456" y="27.8" font-size="7.0" text-anchor="start" font-weight="normal" >2 mV s<tspan font-size="4.6" dy="-2.9">&#8722;1</tspan></text>
<text x="488.3" y="68.8" font-size="7.0" text-anchor="start" font-weight="normal" >100 mV s<tspan font-size="4.6" dy="-2.9">&#8722;1</tspan></text>
<text x="11.8" y="165.2" font-size="11" text-anchor="start" font-weight="bold" >d</text>
<rect x="34.6" y="172.9" width="149.7" height="111.6" fill="none" stroke="#7c7c7c" stroke-width="1.3"/>
<line x1="55.36" y1="284.5" x2="55.36" y2="288.4" stroke="#333" stroke-width="1.0"/>
<line x1="88.44" y1="284.5" x2="88.44" y2="288.4" stroke="#333" stroke-width="1.0"/>
<line x1="121.52" y1="284.5" x2="121.52" y2="288.4" stroke="#333" stroke-width="1.0"/>
<line x1="154.6" y1="284.5" x2="154.6" y2="288.4" stroke="#333" stroke-width="1.0"/>
<line x1="38.82" y1="284.5" x2="38.82" y2="287.4" stroke="#333" stroke-width="1.0"/>
<line x1="71.9" y1="284.5" x2="71.9" y2="287.4" stroke="#333" stroke-width="1.0"/>
<line x1="104.98" y1="284.5" x2="104.98" y2="287.4" stroke="#333" stroke-width="1.0"/>
<line x1="138.06" y1="284.5" x2="138.06" y2="287.4" stroke="#333" stroke-width="1.0"/>
<line x1="171.14" y1="284.5" x2="171.14" y2="287.4" stroke="#333" stroke-width="1.0"/>
<text x="55.36" y="295.8" font-size="8.2" text-anchor="middle" font-weight="normal" >&#8722;1.2</text>
<text x="88.44" y="295.8" font-size="8.2" text-anchor="middle" font-weight="normal" >&#8722;0.8</text>
<text x="121.52" y="295.8" font-size="8.2" text-anchor="middle" font-weight="normal" >&#8722;0.4</text>
<text x="154.6" y="295.8" font-size="8.2" text-anchor="middle" font-weight="normal" >0.0</text>
<line x1="30.7" y1="278.1" x2="34.6" y2="278.1" stroke="#333" stroke-width="1.0"/>
<line x1="30.7" y1="253.25" x2="34.6" y2="253.25" stroke="#333" stroke-width="1.0"/>
<line x1="30.7" y1="228.4" x2="34.6" y2="228.4" stroke="#333" stroke-width="1.0"/>
<line x1="30.7" y1="203.55" x2="34.6" y2="203.55" stroke="#333" stroke-width="1.0"/>
<line x1="30.7" y1="178.7" x2="34.6" y2="178.7" stroke="#333" stroke-width="1.0"/>
<line x1="31.7" y1="265.68" x2="34.6" y2="265.68" stroke="#333" stroke-width="1.0"/>
<line x1="31.7" y1="240.83" x2="34.6" y2="240.83" stroke="#333" stroke-width="1.0"/>
<line x1="31.7" y1="215.97" x2="34.6" y2="215.97" stroke="#333" stroke-width="1.0"/>
<line x1="31.7" y1="191.12" x2="34.6" y2="191.12" stroke="#333" stroke-width="1.0"/>
<text x="30.4" y="281.3" font-size="8.2" text-anchor="end" font-weight="normal" >&#8722;100</text>
<text x="30.4" y="256.45" font-size="8.2" text-anchor="end" font-weight="normal" >&#8722;50</text>
<text x="30.4" y="231.6" font-size="8.2" text-anchor="end" font-weight="normal" >0</text>
<text x="30.4" y="206.75" font-size="8.2" text-anchor="end" font-weight="normal" >50</text>
<text x="30.4" y="181.9" font-size="8.2" text-anchor="end" font-weight="normal" >100</text>
<text x="109.4" y="304.6" font-size="8.1" text-anchor="middle" font-weight="normal" >Potential vs. Ag wire (V)</text>
<text transform="translate(8.1,228.5) rotate(-90)" x="0" y="0" font-size="8.3" text-anchor="middle">Specific capacitance (F g<tspan font-size="6" dx="0.4" dy="-3.4">&#8722;1</tspan><tspan dx="0.9" dy="3.4">)</tspan></text>
<path d="M47,274.5 C47.05,272.08 47.15,264.92 47.3,260 C47.45,255.08 47.58,250.83 47.9,245 C48.22,239.17 48.8,230.12 49.2,225 C49.6,219.88 49.9,217.8 50.3,214.3 C50.7,210.8 51.05,206.88 51.6,204 C52.15,201.12 52.78,198.83 53.6,197 C54.42,195.17 55.17,193.93 56.5,193 C57.83,192.07 58.8,191.43 61.6,191.4 C64.4,191.37 67.9,192.4 73.3,192.8 C78.7,193.2 87.88,193.5 94,193.8 C100.12,194.1 105.67,194.48 110,194.6 C114.33,194.72 116.7,194.9 120,194.5 C123.3,194.1 126.55,193.5 129.8,192.2 C133.05,190.9 136.57,188.2 139.5,186.7 C142.43,185.2 145.28,183.95 147.4,183.2 C149.52,182.45 150.73,182.1 152.2,182.2 C153.67,182.3 154.73,182.72 156.2,183.8 C157.67,184.88 159.53,187.63 161,188.7 C162.47,189.77 163.68,190.03 165,190.2 C166.32,190.37 167.87,190.12 168.9,189.7 C169.93,189.28 170.73,185.98 171.2,187.7 C171.67,189.42 171.62,197.95 171.7,200 C171.72,201.95 171.87,207.78 171.8,211.7 C171.73,215.62 171.55,219.83 171.3,223.5 C171.05,227.17 170.7,230.53 170.3,233.7 C169.9,236.87 169.53,239.95 168.9,242.5 C168.27,245.05 167.63,246.92 166.5,249 C165.37,251.08 164.68,252.42 162.1,255 C159.52,257.58 154.85,261.43 151,264.5 C147.15,267.57 141.97,271.88 139,273.4 C136.03,274.92 135.07,273.95 133.2,273.6 C131.33,273.25 129.77,272.47 127.8,271.3 C125.83,270.13 123.53,268.12 121.4,266.6 C119.27,265.08 118.38,263.15 115,262.2 C111.62,261.25 105.17,260.8 101.1,260.9 C97.03,261 94.52,262.05 90.6,262.8 C86.68,263.55 83.03,264.1 77.6,265.4 C72.17,266.7 63.1,269.08 58,270.6 C52.9,272.12 48.83,273.85 47,274.5" fill="none" stroke="#1b62b0" stroke-width="1.3" stroke-linejoin="round" stroke-linecap="round"/>
<path d="M47,271.3 C47.05,269.08 47.08,262.38 47.3,258 C47.52,253.62 47.85,249.67 48.3,245 C48.75,240.33 49.33,235.12 50,230 C50.67,224.88 51.5,218.72 52.3,214.3 C53.1,209.88 53.85,206.42 54.8,203.5 C55.75,200.58 56.8,198.5 58,196.8 C59.2,195.1 60.42,194.1 62,193.3 C63.58,192.5 64.5,192.15 67.5,192 C70.5,191.85 75.58,192.2 80,192.4 C84.42,192.6 88.17,192.83 94,193.2 C99.83,193.57 110.67,194.38 115,194.6 C119.33,194.82 116.57,195.17 120,194.5 C123.43,193.83 131.37,191.83 135.6,190.6 C139.83,189.37 142.13,187.92 145.4,187.1 C148.67,186.28 152.92,185.6 155.2,185.7 C157.48,185.8 157.47,186.82 159.1,187.7 C160.73,188.58 162.98,190.25 165,191 C167.02,191.75 170.17,192 171.2,192.2 C171.2,193.5 171.22,196.87 171.2,200 C171.18,203.13 171.32,207.08 171.1,211 C170.88,214.92 170.35,219.95 169.9,223.5 C169.45,227.05 169.07,229.38 168.4,232.3 C167.73,235.22 166.8,238.38 165.9,241 C165,243.62 164.15,245.67 163,248 C161.85,250.33 161.25,252.25 159,255 C156.75,257.75 153.03,261.48 149.5,264.5 C145.97,267.52 140.68,271.62 137.8,273.1 C134.92,274.58 134,273.62 132.2,273.4 C130.4,273.18 128.8,272.65 127,271.8 C125.2,270.95 123.4,269.68 121.4,268.3 C119.4,266.92 118.38,264.7 115,263.5 C111.62,262.3 105.17,261.5 101.1,261.1 C97.03,260.7 94.52,260.7 90.6,261.1 C86.68,261.5 83.03,262.42 77.6,263.5 C72.17,264.58 63.1,266.3 58,267.6 C52.9,268.9 48.83,270.68 47,271.3" fill="none" stroke="#ff7f0e" stroke-width="1.3" stroke-linejoin="round" stroke-linecap="round"/>
<path d="M47,268 C47.07,265.83 47.13,258.83 47.4,255 C47.67,251.17 48.1,248.83 48.6,245 C49.1,241.17 49.73,236 50.4,232 C51.07,228 51.8,224 52.6,221 C53.4,218 54.3,216.25 55.2,214 C56.1,211.75 57.03,209.47 58,207.5 C58.97,205.53 59.92,203.65 61,202.2 C62.08,200.75 63.33,199.7 64.5,198.8 C65.67,197.9 66.75,197.38 68,196.8 C69.25,196.22 70,195.73 72,195.3 C74,194.87 76.33,194.45 80,194.2 C83.67,193.95 87.33,193.75 94,193.8 C100.67,193.85 112.42,194.7 120,194.5 C127.58,194.3 133.63,193.4 139.5,192.6 C145.37,191.8 151.28,189.97 155.2,189.7 C159.12,189.43 160.33,190.35 163,191 C165.67,191.65 169.83,193.17 171.2,193.6 C171.15,195 171.05,199.22 170.9,202 C170.75,204.78 170.63,207.22 170.3,210.3 C169.97,213.38 169.5,217.33 168.9,220.5 C168.3,223.67 167.68,226.37 166.7,229.3 C165.72,232.23 164.23,235.48 163,238.1 C161.77,240.72 160.8,242.6 159.3,245 C157.8,247.4 156.25,249.57 154,252.5 C151.75,255.43 149.07,259.43 145.8,262.6 C142.53,265.77 137.38,269.73 134.4,271.5 C131.42,273.27 130.33,273.6 127.9,273.2 C125.47,272.8 122.78,270.6 119.8,269.1 C116.82,267.6 113.12,265.4 110,264.2 C106.88,263 104.33,262.45 101.1,261.9 C97.87,261.35 94.52,260.9 90.6,260.9 C86.68,260.9 83.03,261.22 77.6,261.9 C72.17,262.58 63.1,263.98 58,265 C52.9,266.02 48.83,267.5 47,268" fill="none" stroke="#1f9e22" stroke-width="1.3" stroke-linejoin="round" stroke-linecap="round"/>
<path d="M47,265.4 C47.08,263.17 47.17,255.9 47.5,252 C47.83,248.1 48.38,245.33 49,242 C49.62,238.67 50.45,234.75 51.2,232 C51.95,229.25 52.65,227.67 53.5,225.5 C54.35,223.33 55.22,221.08 56.3,219 C57.38,216.92 58.65,214.83 60,213 C61.35,211.17 62.73,209.53 64.4,208 C66.07,206.47 68.1,204.98 70,203.8 C71.9,202.62 73.8,201.7 75.8,200.9 C77.8,200.1 79.82,199.57 82,199 C84.18,198.43 86.73,197.92 88.9,197.5 C91.07,197.08 92.32,196.82 95,196.5 C97.68,196.18 101.67,195.85 105,195.6 C108.33,195.35 109.25,195.23 115,195 C120.75,194.77 133.13,194.43 139.5,194.2 C145.87,193.97 147.92,193.6 153.2,193.6 C158.48,193.6 168.2,194.1 171.2,194.2 C171.15,195.33 171.05,198.57 170.9,201 C170.75,203.43 170.77,205.78 170.3,208.8 C169.83,211.82 169.2,215.68 168.1,219.1 C167,222.52 165.4,226.13 163.7,229.3 C162,232.47 159.85,235.65 157.9,238.1 C155.95,240.55 154.55,241.28 152,244 C149.45,246.72 145.8,251.03 142.6,254.4 C139.4,257.77 135.93,261.75 132.8,264.2 C129.67,266.65 126.25,268.33 123.8,269.1 C121.35,269.87 120.4,269.22 118.1,268.8 C115.8,268.38 112.83,267.48 110,266.6 C107.17,265.72 104.33,264.5 101.1,263.5 C97.87,262.5 94.52,261.08 90.6,260.6 C86.68,260.12 83.03,260.17 77.6,260.6 C72.17,261.03 63.1,262.4 58,263.2 C52.9,264 48.83,265.03 47,265.4" fill="none" stroke="#d8262b" stroke-width="1.3" stroke-linejoin="round" stroke-linecap="round"/>
<path d="M47,260.9 C47.1,259.42 47.22,254.65 47.6,252 C47.98,249.35 48.57,247.33 49.3,245 C50.03,242.67 50.83,240.67 52,238 C53.17,235.33 54.8,231.25 56.3,229 C57.8,226.75 59.38,225.92 61,224.5 C62.62,223.08 64.07,221.88 66,220.5 C67.93,219.12 70.27,217.63 72.6,216.2 C74.93,214.77 77.28,213.35 80,211.9 C82.72,210.45 85.57,208.92 88.9,207.5 C92.23,206.08 96.48,204.48 100,203.4 C103.52,202.32 106.67,201.68 110,201 C113.33,200.32 116.67,199.77 120,199.3 C123.33,198.83 126.67,198.48 130,198.2 C133.33,197.92 136.67,197.72 140,197.6 C143.33,197.48 146.67,197.47 150,197.5 C153.33,197.53 156.47,197.63 160,197.8 C163.53,197.97 169.33,198.38 171.2,198.5 C171.17,199.97 171.52,204.12 171,207.3 C170.48,210.48 169.55,214.42 168.1,217.6 C166.65,220.78 164.73,223.47 162.3,226.4 C159.87,229.33 156.38,232.77 153.5,235.2 C150.62,237.63 147.45,239.45 145,241 C142.55,242.55 141.3,243.08 138.8,244.5 C136.3,245.92 132.63,247.92 130,249.5 C127.37,251.08 126.33,252.63 123,254 C119.67,255.37 114.3,256.88 110,257.7 C105.7,258.52 102.6,258.77 97.2,258.9 C91.8,259.03 84.13,258.38 77.6,258.5 C71.07,258.62 63.1,259.2 58,259.6 C52.9,260 48.83,260.68 47,260.9" fill="none" stroke="#9a63cf" stroke-width="1.3" stroke-linejoin="round" stroke-linecap="round"/>
<path d="M47,256.3 C47.08,255.25 47.17,251.63 47.5,250 C47.83,248.37 48.45,247.67 49,246.5 C49.55,245.33 49.97,244.42 50.8,243 C51.63,241.58 52.8,239.58 54,238 C55.2,236.42 56.8,234.67 58,233.5 C59.2,232.33 59.7,232.08 61.2,231 C62.7,229.92 64.98,228.28 67,227 C69.02,225.72 71.13,224.5 73.3,223.3 C75.47,222.1 77.22,221.08 80,219.8 C82.78,218.52 86.67,216.93 90,215.6 C93.33,214.27 96.67,212.93 100,211.8 C103.33,210.67 106.67,209.73 110,208.8 C113.33,207.87 116.67,206.98 120,206.2 C123.33,205.42 126.67,204.7 130,204.1 C133.33,203.5 136.67,202.98 140,202.6 C143.33,202.22 146.67,201.97 150,201.8 C153.33,201.63 157.5,201.57 160,201.6 C162.5,201.63 163.15,201.72 165,202 C166.85,202.28 170.08,203.08 171.1,203.3 C170.85,204.22 170.58,206.42 169.6,208.8 C168.62,211.18 167.4,214.42 165.2,217.6 C163,220.78 159.82,224.97 156.4,227.9 C152.98,230.83 149.1,233.13 144.7,235.2 C140.3,237.27 134.12,238.8 130,240.3 C125.88,241.8 123.33,242.98 120,244.2 C116.67,245.42 113.8,246.6 110,247.6 C106.2,248.6 103.68,249.18 97.2,250.2 C90.72,251.22 79.47,252.68 71.1,253.7 C62.73,254.72 51.02,255.87 47,256.3" fill="none" stroke="#19bcd0" stroke-width="1.3" stroke-linejoin="round" stroke-linecap="round"/>
<line x1="102.5" y1="188.6" x2="130" y2="215.8" stroke="#000" stroke-width="1.4"/>
<path d="M122.6,216 L130.4,216 L130.4,208.2" fill="none" stroke="#000" stroke-width="1.4"/>
<text x="86.2" y="186.6" font-size="7.0" text-anchor="start" font-weight="normal" >2 mV s<tspan font-size="4.6" dy="-2.9">&#8722;1</tspan></text>
<text x="118.6" y="225.8" font-size="7.0" text-anchor="start" font-weight="normal" >100 mV s<tspan font-size="4.6" dy="-2.9">&#8722;1</tspan></text>
<text x="206.8" y="165.2" font-size="11" text-anchor="start" font-weight="bold" >e</text>
<rect x="229.3" y="172.9" width="149.3" height="112" fill="none" stroke="#7c7c7c" stroke-width="1.3"/>
<line x1="229.3" y1="284.9" x2="229.3" y2="288.8" stroke="#333" stroke-width="1.0"/>
<line x1="288.8" y1="284.9" x2="288.8" y2="288.8" stroke="#333" stroke-width="1.0"/>
<line x1="348.3" y1="284.9" x2="348.3" y2="288.8" stroke="#333" stroke-width="1.0"/>
<line x1="259.05" y1="284.9" x2="259.05" y2="287.8" stroke="#333" stroke-width="1.0"/>
<line x1="318.55" y1="284.9" x2="318.55" y2="287.8" stroke="#333" stroke-width="1.0"/>
<line x1="378.05" y1="284.9" x2="378.05" y2="287.8" stroke="#333" stroke-width="1.0"/>
<text x="229.3" y="295.8" font-size="8.2" text-anchor="middle" font-weight="normal" >0</text>
<text x="288.8" y="295.8" font-size="8.2" text-anchor="middle" font-weight="normal" >1000</text>
<text x="348.3" y="295.8" font-size="8.2" text-anchor="middle" font-weight="normal" >2000</text>
<line x1="225.4" y1="181.3" x2="229.3" y2="181.3" stroke="#333" stroke-width="1.0"/>
<line x1="225.4" y1="215.82" x2="229.3" y2="215.82" stroke="#333" stroke-width="1.0"/>
<line x1="225.4" y1="250.34" x2="229.3" y2="250.34" stroke="#333" stroke-width="1.0"/>
<line x1="225.4" y1="284.86" x2="229.3" y2="284.86" stroke="#333" stroke-width="1.0"/>
<line x1="226.4" y1="198.56" x2="229.3" y2="198.56" stroke="#333" stroke-width="1.0"/>
<line x1="226.4" y1="233.08" x2="229.3" y2="233.08" stroke="#333" stroke-width="1.0"/>
<line x1="226.4" y1="267.6" x2="229.3" y2="267.6" stroke="#333" stroke-width="1.0"/>
<text x="224.3" y="184.5" font-size="8.2" text-anchor="end" font-weight="normal" >0.0</text>
<text x="224.3" y="219.02" font-size="8.2" text-anchor="end" font-weight="normal" >&#8722;0.4</text>
<text x="224.3" y="253.54" font-size="8.2" text-anchor="end" font-weight="normal" >&#8722;0.8</text>
<text x="224.3" y="288.06" font-size="8.2" text-anchor="end" font-weight="normal" >&#8722;1.2</text>
<text x="304.3" y="304.6" font-size="8.0" text-anchor="middle" font-weight="normal" >Time (s)</text>
<text transform="translate(205.4,228.9) rotate(-90)" x="0" y="0" font-size="8.1" text-anchor="middle">Potential vs. Ag wire (V)</text>
<path d="M229.3,284.9 C230.1,283.46 232.52,279.15 234.12,276.26 C235.73,273.36 237.34,270.46 238.95,267.54 C240.56,264.62 242.17,261.69 243.78,258.74 C245.38,255.8 246.99,252.83 248.6,249.87 C250.21,246.9 251.82,243.92 253.43,240.94 C255.03,237.97 256.64,234.98 258.25,232.02 C259.86,229.05 261.47,226.09 263.07,223.15 C264.68,220.21 266.29,217.28 267.9,214.39 C269.51,211.5 271.12,208.63 272.73,205.81 C274.33,202.98 275.94,200.18 277.55,197.43 C279.16,194.68 280.77,191.97 282.38,189.3 C283.98,186.63 286.4,182.72 287.2,181.4 C287.85,182.84 289.8,187.15 291.07,190.03 C292.35,192.9 293.59,195.78 294.83,198.65 C296.08,201.53 297.3,204.4 298.54,207.28 C299.78,210.15 301.01,213.03 302.27,215.9 C303.53,218.78 304.79,221.65 306.1,224.53 C307.4,227.4 308.72,230.28 310.1,233.15 C311.48,236.03 312.88,238.9 314.35,241.78 C315.82,244.65 317.33,247.53 318.9,250.4 C320.47,253.28 322.09,256.15 323.77,259.02 C325.45,261.9 327.18,264.77 328.97,267.65 C330.75,270.52 332.59,273.4 334.46,276.27 C336.34,279.15 339.24,283.46 340.2,284.9" fill="none" stroke="#1b62b0" stroke-width="1.3" stroke-linejoin="round" stroke-linecap="round"/>
<path d="M229.3,284.9 L256.3,181.4 L282.1,284.9" fill="none" stroke="#ff7f0e" stroke-width="1.3" stroke-linejoin="round" stroke-linecap="round"/>
<path d="M229.3,284.9 L239.7,181.4 L250,284.9" fill="none" stroke="#1f9e22" stroke-width="1.3" stroke-linejoin="round" stroke-linecap="round"/>
<path d="M229.3,284.9 L234.4,181.4 L239.1,284.9" fill="none" stroke="#d8262b" stroke-width="1.3" stroke-linejoin="round" stroke-linecap="round"/>
<path d="M229.3,284.9 L231.8,181.4 L233.8,284.9" fill="none" stroke="#9a63cf" stroke-width="1.3" stroke-linejoin="round" stroke-linecap="round"/>
<line x1="316.8" y1="181.8" x2="330.5" y2="181.8" stroke="#1b62b0" stroke-width="1.4"/>
<text class="sm" x="335.3" y="184.2" font-size="6.6" text-anchor="start" font-weight="normal" >100 mA g<tspan font-size="5" dy="-3">&#8722;1</tspan></text>
<line x1="316.8" y1="192.45" x2="330.5" y2="192.45" stroke="#ff7f0e" stroke-width="1.4"/>
<text class="sm" x="335.3" y="194.85" font-size="6.6" text-anchor="start" font-weight="normal" >200 mA g<tspan font-size="5" dy="-3">&#8722;1</tspan></text>
<line x1="316.8" y1="203.1" x2="330.5" y2="203.1" stroke="#1f9e22" stroke-width="1.4"/>
<text class="sm" x="335.3" y="205.5" font-size="6.6" text-anchor="start" font-weight="normal" >500 mA g<tspan font-size="5" dy="-3">&#8722;1</tspan></text>
<line x1="316.8" y1="213.75" x2="330.5" y2="213.75" stroke="#d8262b" stroke-width="1.4"/>
<text class="sm" x="335.3" y="216.15" font-size="6.6" text-anchor="start" font-weight="normal" >1000 mA g<tspan font-size="5" dy="-3">&#8722;1</tspan></text>
<line x1="316.8" y1="224.4" x2="330.5" y2="224.4" stroke="#9a63cf" stroke-width="1.4"/>
<text class="sm" x="335.3" y="226.8" font-size="6.6" text-anchor="start" font-weight="normal" >2000 mA g<tspan font-size="5" dy="-3">&#8722;1</tspan></text>
<text x="403.1" y="165.2" font-size="11" text-anchor="start" font-weight="bold" >f</text>
<rect x="424.4" y="172.8" width="149.1" height="111.8" fill="none" stroke="#7c7c7c" stroke-width="1.3"/>
<line x1="424.3" y1="284.6" x2="424.3" y2="288.5" stroke="#333" stroke-width="1.0"/>
<line x1="456.05" y1="284.6" x2="456.05" y2="288.5" stroke="#333" stroke-width="1.0"/>
<line x1="487.8" y1="284.6" x2="487.8" y2="288.5" stroke="#333" stroke-width="1.0"/>
<line x1="519.55" y1="284.6" x2="519.55" y2="288.5" stroke="#333" stroke-width="1.0"/>
<line x1="551.3" y1="284.6" x2="551.3" y2="288.5" stroke="#333" stroke-width="1.0"/>
<line x1="440.18" y1="284.6" x2="440.18" y2="287.5" stroke="#333" stroke-width="1.0"/>
<line x1="471.93" y1="284.6" x2="471.93" y2="287.5" stroke="#333" stroke-width="1.0"/>
<line x1="503.68" y1="284.6" x2="503.68" y2="287.5" stroke="#333" stroke-width="1.0"/>
<line x1="535.42" y1="284.6" x2="535.42" y2="287.5" stroke="#333" stroke-width="1.0"/>
<line x1="567.17" y1="284.6" x2="567.17" y2="287.5" stroke="#333" stroke-width="1.0"/>
<text x="424.3" y="295.8" font-size="8.2" text-anchor="middle" font-weight="normal" >0</text>
<text x="456.05" y="295.8" font-size="8.2" text-anchor="middle" font-weight="normal" >1000</text>
<text x="487.8" y="295.8" font-size="8.2" text-anchor="middle" font-weight="normal" >2000</text>
<text x="519.55" y="295.8" font-size="8.2" text-anchor="middle" font-weight="normal" >3000</text>
<text x="551.3" y="295.8" font-size="8.2" text-anchor="middle" font-weight="normal" >4000</text>
<line x1="420.5" y1="193.7" x2="424.4" y2="193.7" stroke="#333" stroke-width="1.0"/>
<line x1="420.5" y1="221.82" x2="424.4" y2="221.82" stroke="#333" stroke-width="1.0"/>
<line x1="420.5" y1="249.94" x2="424.4" y2="249.94" stroke="#333" stroke-width="1.0"/>
<line x1="420.5" y1="278.06" x2="424.4" y2="278.06" stroke="#333" stroke-width="1.0"/>
<line x1="421.5" y1="179.64" x2="424.4" y2="179.64" stroke="#333" stroke-width="1.0"/>
<line x1="421.5" y1="207.76" x2="424.4" y2="207.76" stroke="#333" stroke-width="1.0"/>
<line x1="421.5" y1="235.88" x2="424.4" y2="235.88" stroke="#333" stroke-width="1.0"/>
<line x1="421.5" y1="264" x2="424.4" y2="264" stroke="#333" stroke-width="1.0"/>
<text x="419.3" y="196.9" font-size="8.2" text-anchor="end" font-weight="normal" >0.0</text>
<text x="419.3" y="225.02" font-size="8.2" text-anchor="end" font-weight="normal" >&#8722;0.4</text>
<text x="419.3" y="253.14" font-size="8.2" text-anchor="end" font-weight="normal" >&#8722;0.8</text>
<text x="419.3" y="281.26" font-size="8.2" text-anchor="end" font-weight="normal" >&#8722;1.2</text>
<text x="499.3" y="304.6" font-size="8.0" text-anchor="middle" font-weight="normal" >Time (s)</text>
<text transform="translate(399.9,228.75) rotate(-90)" x="0" y="0" font-size="8.1" text-anchor="middle">Potential vs. Ag wire (V)</text>
<path d="M424.3,284.6 C426.18,280.67 431.77,268.63 435.6,261 C439.43,253.37 443.4,246.13 447.3,238.8 C451.2,231.47 455.08,224.27 459,217 C462.92,209.73 467.5,201.38 470.8,195.2 C474.1,189.02 477.47,182.45 478.8,179.9 C479.75,181.25 482.58,185.07 484.5,188 C486.42,190.93 488.03,193.67 490.3,197.5 C492.57,201.33 495.82,206.8 498.1,211 C500.38,215.2 502.05,218.78 504,222.7 C505.95,226.62 507.85,230.32 509.8,234.5 C511.75,238.68 513.73,243.58 515.7,247.8 C517.67,252.02 519.65,255.87 521.6,259.8 C523.55,263.73 525.23,267.27 527.4,271.4 C529.57,275.53 533.4,282.4 534.6,284.6" fill="none" stroke="#1b62b0" stroke-width="1.3" stroke-linejoin="round" stroke-linecap="round"/>
<path d="M424.3,284.6 L450.7,179.9 L477.6,284.6" fill="none" stroke="#ff7f0e" stroke-width="1.3" stroke-linejoin="round" stroke-linecap="round"/>
<path d="M424.3,284.6 L434.3,179.9 L444.7,284.6" fill="none" stroke="#1f9e22" stroke-width="1.3" stroke-linejoin="round" stroke-linecap="round"/>
<path d="M424.3,284.6 L428.8,179.9 L433.5,284.6" fill="none" stroke="#d8262b" stroke-width="1.3" stroke-linejoin="round" stroke-linecap="round"/>
<path d="M424.3,284.6 L426.5,179.9 L428,284.6" fill="none" stroke="#9a63cf" stroke-width="1.3" stroke-linejoin="round" stroke-linecap="round"/>
<line x1="511.8" y1="181.8" x2="525.5" y2="181.8" stroke="#1b62b0" stroke-width="1.4"/>
<text class="sm" x="530.3" y="184.2" font-size="6.6" text-anchor="start" font-weight="normal" >100 mA g<tspan font-size="5" dy="-3">&#8722;1</tspan></text>
<line x1="511.8" y1="192.45" x2="525.5" y2="192.45" stroke="#ff7f0e" stroke-width="1.4"/>
<text class="sm" x="530.3" y="194.85" font-size="6.6" text-anchor="start" font-weight="normal" >200 mA g<tspan font-size="5" dy="-3">&#8722;1</tspan></text>
<line x1="511.8" y1="203.1" x2="525.5" y2="203.1" stroke="#1f9e22" stroke-width="1.4"/>
<text class="sm" x="530.3" y="205.5" font-size="6.6" text-anchor="start" font-weight="normal" >500 mA g<tspan font-size="5" dy="-3">&#8722;1</tspan></text>
<line x1="511.8" y1="213.75" x2="525.5" y2="213.75" stroke="#d8262b" stroke-width="1.4"/>
<text class="sm" x="530.3" y="216.15" font-size="6.6" text-anchor="start" font-weight="normal" >1000 mA g<tspan font-size="5" dy="-3">&#8722;1</tspan></text>
<line x1="511.8" y1="224.4" x2="525.5" y2="224.4" stroke="#9a63cf" stroke-width="1.4"/>
<text class="sm" x="530.3" y="226.8" font-size="6.6" text-anchor="start" font-weight="normal" >2000 mA g<tspan font-size="5" dy="-3">&#8722;1</tspan></text>
</svg>
</body></html>
